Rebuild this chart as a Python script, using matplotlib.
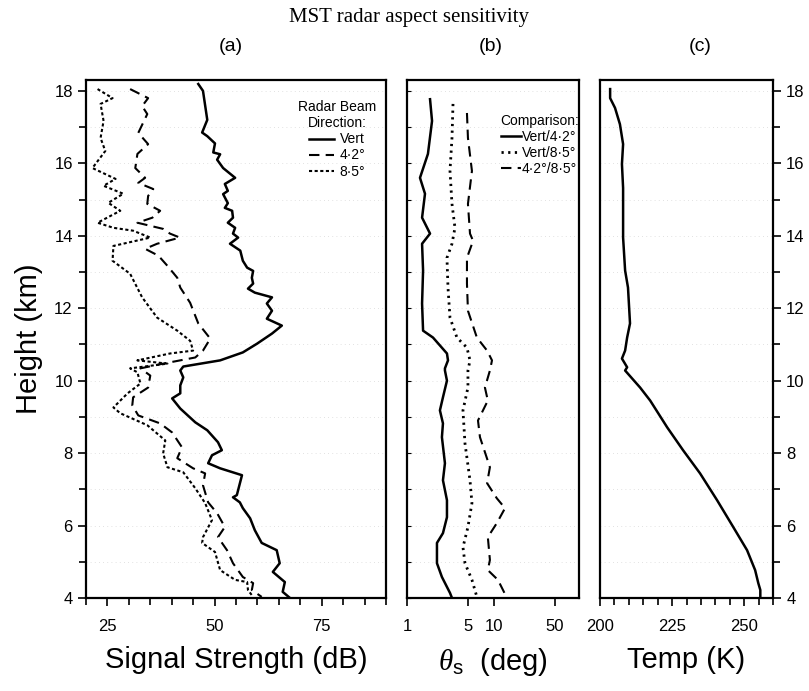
import matplotlib
matplotlib.use("Agg")
import matplotlib.pyplot as plt
from matplotlib.ticker import MultipleLocator, NullLocator

plt.rcParams['font.family'] = ['Liberation Sans', 'DejaVu Sans']
plt.rcParams['mathtext.fontset'] = 'custom'
plt.rcParams['mathtext.it'] = 'Liberation Serif:italic'
plt.rcParams['mathtext.rm'] = 'Liberation Sans'

# (a) signal strength (dB) vs height (km)
vert_db = [46.2, 47.3, 47.8, 48.3, 47.1, 48.3, 50.1, 49.7, 51.3, 50.6, 52.0, 54.8, 52.4, 53.1, 52.0,
           53.1, 52.4, 54.1, 54.3, 53.1, 54.8, 54.3, 55.5, 53.6, 56.0, 56.6, 57.6, 59.0, 58.7, 59.0,
           57.8, 59.4, 63.4, 62.2, 63.4, 62.2, 65.7, 63.4, 59.9, 56.6, 51.3, 42.7, 42.0, 42.7, 42.0,
           42.0, 40.1, 42.0, 45.5, 48.3, 50.8, 51.7, 49.4, 48.5, 51.3, 56.4, 55.2, 54.3, 55.9, 56.6,
           58.3, 59.4, 61.0, 64.5, 65.2, 63.6, 66.4, 65.9, 67.6]
vert_h = [18.19, 18.0, 17.6, 17.2, 16.85, 16.75, 16.55, 16.3, 16.25, 16.1, 15.87, 15.6, 15.43, 15.24, 15.15,
          14.9, 14.77, 14.69, 14.5, 14.36, 14.22, 14.06, 13.95, 13.78, 13.59, 13.31, 13.12, 13.03, 12.84, 12.68,
          12.54, 12.43, 12.3, 12.13, 11.93, 11.71, 11.52, 11.3, 11.02, 10.78, 10.56, 10.39, 10.28, 10.09, 9.87,
          9.65, 9.51, 9.23, 8.85, 8.63, 8.3, 8.08, 7.94, 7.72, 7.58, 7.39, 6.84, 6.78, 6.64, 6.48,
          6.2, 5.87, 5.52, 5.32, 4.96, 4.72, 4.44, 4.17, 4.0]

d42_db = [30.3, 34.5, 33.1, 34.3, 32.2, 34.5, 32.0, 31.5, 33.8, 32.2, 35.7, 34.5, 34.3, 37.3, 35.5,
          32.0, 38.0, 39.6, 41.9, 36.6, 33.8, 36.9, 39.0, 41.3, 42.0, 44.3, 46.2, 49.0, 47.3, 45.5,
          38.0, 32.7, 35.0, 34.5, 31.0, 30.8, 32.2, 37.3, 40.1, 42.4, 41.3, 45.0, 47.8, 47.3, 48.5,
          50.6, 52.4, 50.8, 52.9, 54.3, 56.6, 59.0, 58.7, 61.0]
d42_h = [18.05, 17.8, 17.58, 17.36, 16.84, 16.53, 16.26, 15.87, 15.6, 15.46, 15.29, 15.1, 14.88, 14.69, 14.5,
         14.36, 14.19, 14.06, 13.95, 13.78, 13.64, 13.45, 13.17, 12.84, 12.57, 12.15, 11.58, 11.16, 10.83, 10.64,
         10.47, 10.34, 10.14, 9.81, 9.54, 9.32, 9.04, 8.82, 8.57, 8.16, 7.86, 7.58, 7.44, 7.11, 6.64,
         6.34, 5.96, 5.68, 5.32, 4.96, 4.58, 4.41, 4.22, 4.03]

d85_db = [22.7, 26.2, 23.4, 24.1, 23.4, 24.5, 21.5, 26.9, 24.1, 28.7, 25.2, 28.0, 22.7, 26.4, 31.0,
          35.0, 26.4, 26.2, 30.3, 33.1, 36.6, 41.3, 44.3, 45.0, 39.6, 32.0, 39.0, 30.3, 32.0, 32.7,
          29.7, 26.4, 28.0, 34.3, 38.5, 38.0, 39.0, 42.7, 45.5, 47.8, 49.4, 47.3, 47.1, 50.1, 51.3,
          54.8, 57.6, 57.8, 59.0]
d85_h = [18.05, 17.8, 17.64, 17.17, 16.7, 16.34, 15.87, 15.57, 15.38, 15.16, 14.91, 14.69, 14.36, 14.22, 14.14,
         13.95, 13.72, 13.31, 12.95, 12.3, 11.74, 11.38, 11.1, 10.83, 10.75, 10.56, 10.47, 10.34, 10.23, 9.92,
         9.65, 9.26, 9.1, 8.77, 8.35, 7.99, 7.61, 7.47, 7.03, 6.62, 6.15, 5.68, 5.52, 5.27, 4.77,
         4.5, 4.44, 4.22, 4.03]

# (b) aspect sensitivity theta_s (deg)
c1_deg = [1.84, 1.94, 1.74, 1.41, 1.61, 1.49, 1.84, 1.49, 1.53, 1.49, 1.53, 1.99, 2.88, 2.96, 2.73,
          2.73, 2.88, 2.59, 2.39, 2.59, 2.52, 2.73, 2.59, 2.88, 2.88, 2.59, 2.21, 2.21, 2.52, 3.12, 3.29]
c1_h = [17.77, 17.17, 16.26, 15.6, 15.16, 14.5, 14.06, 13.78, 13.04, 12.13, 11.38, 11.19, 10.75, 10.56, 10.34,
        10.28, 10.0, 9.54, 9.18, 8.82, 8.44, 7.72, 7.25, 6.7, 6.23, 5.79, 5.52, 4.96, 4.58, 4.14, 4.0]

c2_deg = [3.38, 3.29, 3.12, 3.29, 3.56, 3.29, 2.88, 2.96, 3.12, 3.75, 4.89, 5.30,
          5.02, 5.02, 4.40, 4.64, 5.30, 5.58, 5.02, 4.40, 4.64, 5.58, 6.36]
c2_h = [17.64, 16.7, 15.79, 14.88, 14.22, 13.78, 13.39, 12.57, 11.74, 11.19, 10.91, 10.56,
        10.28, 9.81, 9.18, 8.27, 7.25, 6.62, 5.96, 5.40, 4.96, 4.50, 4.03]

c3_deg = [4.89, 5.02, 5.58, 5.02, 5.30, 5.75, 4.89, 4.89, 5.02, 6.36, 8.33, 9.49,
          8.98, 7.87, 8.5, 6.55, 6.9, 8.98, 8.33, 10.8, 13.4, 10.8, 8.5, 8.98, 8.5, 11.1, 12.7, 14.1]
c3_h = [17.39, 16.7, 15.79, 14.88, 14.06, 13.86, 13.39, 12.68, 11.93, 11.19, 10.83, 10.56,
        10.28, 9.81, 9.45, 8.90, 8.44, 7.61, 7.17, 6.75, 6.48, 6.07, 5.68, 5.05, 4.77, 4.50, 4.22, 4.0]

# (c) temperature (K)
temp_k = [203.5, 203.5, 205.2, 206.9, 208.0, 207.6, 208.0, 208.0, 208.7, 209.7, 210.4, 209.4, 208.7, 207.6,
          209.4, 208.7, 213.9, 217.4, 223.3, 228.8, 234.7, 240.6, 246.2, 251.0, 253.8, 254.9, 255.6, 255.6]
temp_h = [18.05, 17.8, 17.53, 17.08, 16.53, 15.98, 15.32, 13.95, 13.04, 12.57, 11.58, 11.19, 10.83, 10.61,
          10.37, 10.28, 9.81, 9.45, 8.71, 8.08, 7.44, 6.70, 5.96, 5.32, 4.77, 4.41, 4.22, 4.0]

fig = plt.figure(figsize=(8.09, 6.91), dpi=100)
bot, hgt = 0.1346, 0.7496
ax1 = fig.add_axes([0.1063, bot, 0.3708, hgt])
ax2 = fig.add_axes([0.5031, bot, 0.2126, hgt])
ax3 = fig.add_axes([0.7417, bot, 0.2138, hgt])

for ax in (ax1, ax2, ax3):
    ax.set_ylim(4, 18.3)
    for s in ax.spines.values():
        s.set_linewidth(1.6)
    for yy in range(5, 19):
        ax.axhline(yy, color='#d8d8d8', lw=0.6, ls=(0, (1, 4)), zorder=0)

# panel (a)
ax1.plot(vert_db, vert_h, color='k', lw=1.8, label='Vert')
ax1.plot(d42_db, d42_h, color='k', lw=1.5, ls=(0, (5, 3)), label='4·2°')
ax1.plot(d85_db, d85_h, color='k', lw=1.5, ls=(0, (1.5, 1.2)), label='8·5°')
ax1.set_xlim(20, 90)
ax1.set_xticks([25, 50, 75])
ax1.xaxis.set_minor_locator(MultipleLocator(5))
ax1.set_yticks([4, 6, 8, 10, 12, 14, 16, 18])
ax1.yaxis.set_minor_locator(MultipleLocator(1))
ax1.tick_params(which='both', direction='out', labelsize=12, width=1.2)
ax1.tick_params(which='major', length=6)
ax1.tick_params(which='minor', length=5)
ax1.tick_params(axis='x', pad=9)
ax1.set_xlabel('Signal Strength (dB)', fontsize=21, labelpad=9)
ax1.set_ylabel('Height (km)', fontsize=21, labelpad=8)
leg1 = ax1.legend(title='Radar Beam\nDirection:', loc='upper right', frameon=False, fontsize=10,
                  title_fontsize=10, handlelength=1.8, handletextpad=0.4, borderaxespad=0.3,
                  labelspacing=0.15, bbox_to_anchor=(1.0, 0.98))
leg1.get_title().set_multialignment('center')

# panel (b)
ax2.plot(c1_deg, c1_h, color='k', lw=1.8, label='Vert/4·2°')
ax2.plot(c2_deg, c2_h, color='k', lw=2.0, ls=(0, (0.8, 1.6)), label='Vert/8·5°')
ax2.plot(c3_deg, c3_h, color='k', lw=1.5, ls=(0, (5, 3)), label='4·2°/8·5°')
ax2.set_xscale('log')
ax2.set_xlim(1, 95)
ax2.set_xticks([1, 5, 10, 50])
ax2.set_xticklabels(['1', '5', '10', '50'])
ax2.xaxis.set_minor_locator(NullLocator())
ax2.set_yticks([4, 6, 8, 10, 12, 14, 16, 18])
ax2.yaxis.set_minor_locator(MultipleLocator(1))
ax2.tick_params(axis='x', direction='out', length=6, width=1.2, labelsize=12, pad=9)
ax2.tick_params(axis='y', which='both', direction='in', length=3, width=0.8, labelleft=False)
ax2.set_xlabel(r'$\theta_{\rm s}$  (deg)', fontsize=21, labelpad=9)
ax2.legend(title='Comparison:', loc='upper right', frameon=False, fontsize=10,
           title_fontsize=10, handlelength=1.4, handletextpad=0.1, borderaxespad=0.0,
           labelspacing=0.15, bbox_to_anchor=(1.03, 0.945))

# panel (c)
ax3.plot(temp_k, temp_h, color='k', lw=1.8)
ax3.set_xlim(200, 260)
ax3.set_xticks([200, 225, 250])
ax3.xaxis.set_minor_locator(MultipleLocator(5))
ax3.set_yticks([4, 6, 8, 10, 12, 14, 16, 18])
ax3.yaxis.set_minor_locator(MultipleLocator(1))
ax3.yaxis.tick_right()
ax3.tick_params(which='both', direction='out', labelsize=12, width=1.2)
ax3.tick_params(which='major', length=6)
ax3.tick_params(which='minor', length=5)
ax3.tick_params(axis='x', pad=9)
ax3.set_xlabel('Temp (K)', fontsize=21, labelpad=9)

fig.text(0.505, 0.974, 'MST radar aspect sensitivity', ha='center', va='center',
         fontsize=15, family='Liberation Serif')
fig.text(0.285, 0.932, '(a)', ha='center', va='center', fontsize=14)
fig.text(0.607, 0.932, '(b)', ha='center', va='center', fontsize=14)
fig.text(0.865, 0.932, '(c)', ha='center', va='center', fontsize=14)

fig.savefig('out.png', dpi=100)
